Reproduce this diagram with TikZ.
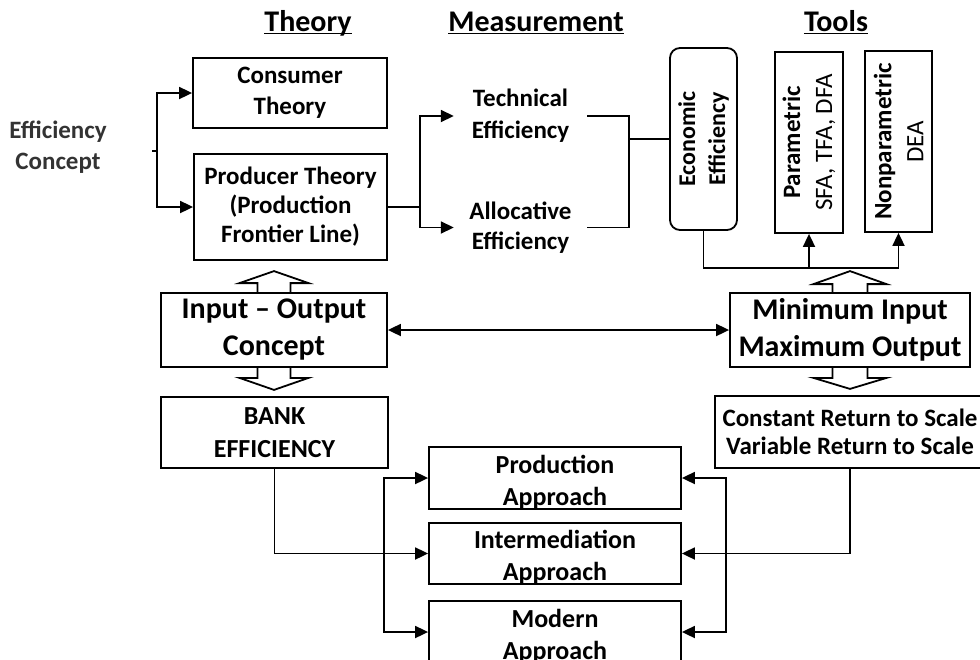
\documentclass[tikz,border=0pt]{standalone}
\usepackage{fontspec}
\setmainfont{Carlito}
\usetikzlibrary{arrows.meta}

\begin{document}
\begin{tikzpicture}[x=1pt,y=-1pt,
  ln/.style={line width=1.8pt},
  arr/.style={line width=1.8pt,-{Triangle[length=13pt,width=12pt]}},
  dbl/.style={line width=1.8pt,{Triangle[length=13pt,width=12pt]}-{Triangle[length=13pt,width=12pt]}},
  box/.style={draw,line width=1.8pt,align=center,inner sep=0pt},
  txt/.style={align=center,inner sep=0pt,font=\fontsize{25}{31}\selectfont\bfseries},
  hd/.style={inner sep=0pt,anchor=base,font=\fontsize{30}{36}\selectfont\bfseries},
  blk/.style={draw,line width=1.8pt}]
\useasboundingbox (0,0) rectangle (980,659);
\clip (0,0) rectangle (980,659);

\node[hd] (thy) at (308,31) {Theory};
\node[hd] (msr) at (536,31) {Measurement};
\node[hd] (tls) at (836,31) {Tools};
\draw[ln] ([yshift=-2.5pt]thy.base west) -- ([yshift=-2.5pt]thy.base east);
\draw[ln] ([yshift=-2.5pt]msr.base west) -- ([yshift=-2.5pt]msr.base east);
\draw[ln] ([yshift=-2.5pt]tls.base west) -- ([yshift=-2.5pt]tls.base east);

\node[txt,text=black!80] (eff) at (58,147) {Efficiency\\Concept};
\node[box,txt,minimum width=194pt,minimum height=70pt] (cons) at (290,93) {Consumer\\Theory};
\node[box,txt,minimum width=193pt,minimum height=106pt,font=\fontsize{25}{29}\selectfont\bfseries] (prod) at (290.5,207) {Producer Theory\\(Production\\Frontier Line)};

\node[txt,minimum width=133pt,font=\fontsize{25}{32}\selectfont\bfseries] (tech) at (520.5,116) {Technical\\Efficiency};
\node[txt,minimum width=133pt,font=\fontsize{25}{30}\selectfont\bfseries] (alloc) at (520.5,227.5) {Allocative\\Efficiency};

\node[box,rounded corners=10pt,rotate=90,minimum width=182pt,minimum height=67pt,font=\fontsize{24}{30}\selectfont\bfseries] (econ) at (703.5,139) {Economic\\Efficiency};
\node[box,rotate=90,minimum width=181pt,minimum height=68pt,font=\fontsize{25}{32}\selectfont] (param) at (809,142.5) {\textbf{Parametric}\\SFA, TFA, DFA};
\node[box,rotate=90,minimum width=181pt,minimum height=67pt,font=\fontsize{25}{32}\selectfont] (nonp) at (898.5,141.5) {\textbf{Nonparametric}\\DEA};

\node[box,minimum width=226pt,minimum height=74pt,font=\fontsize{30}{37}\selectfont\bfseries] (io) at (274,330) {Input -- Output\\Concept};
\node[box,minimum width=240pt,minimum height=74pt,font=\fontsize{30}{37}\selectfont\bfseries] (mm) at (850,330) {Minimum Input\\Maximum Output};
\node[box,minimum width=227pt,minimum height=71pt,font=\fontsize{26}{33}\selectfont\bfseries] (bank) at (274.5,432.5) {BANK\\EFFICIENCY};
\node[box,minimum width=270pt,minimum height=72pt,font=\fontsize{25}{28}\selectfont\bfseries] (crs) at (850,432) {Constant Return to Scale\\Variable Return to Scale};

\node[box,minimum width=252pt,minimum height=62pt] (prodap) at (555,478) {};
\node[box,minimum width=252pt,minimum height=61pt] (interap) at (555,553.5) {};
\node[box,minimum width=252pt,minimum height=62pt] (modap) at (555,632) {};
\node[txt,font=\fontsize{26}{32}\selectfont\bfseries] (prodaptx) at (555,482) {Production\\Approach};
\node[txt,font=\fontsize{26}{32}\selectfont\bfseries] (interaptx) at (555,557.5) {Intermediation\\Approach};
\node[txt,font=\fontsize{26}{32}\selectfont\bfseries] (modaptx) at (555,636) {Modern\\Approach};

\draw[blk,shift={(io.north)}] (-16.5,0) -- (-16.5,-9) -- (-34.5,-9) -- (0,-21) -- (34.5,-9) -- (16.5,-9) -- (16.5,0);
\draw[blk,shift={(io.south)}] (-16.5,0) -- (-16.5,10) -- (-34.5,10) -- (0,22) -- (34.5,10) -- (16.5,10) -- (16.5,0);
\draw[blk,shift={(mm.north)}] (-17.5,0) -- (-17.5,-8) -- (-36.5,-8) -- (0,-21) -- (36.5,-8) -- (17.5,-8) -- (17.5,0);
\draw[blk,shift={(mm.south)}] (-17.5,0) -- (-17.5,10) -- (-36.5,10) -- (0,21) -- (36.5,10) -- (17.5,10) -- (17.5,0);

\coordinate (ect) at (152,151);
\coordinate (ecj) at (157,151);
\draw[ln] (ect) -- (ecj);
\draw[arr] (ecj) |- (cons.west);
\draw[arr] (ecj) |- (prod.west);

\coordinate (pj) at (420,207);
\draw[ln] (prod.east) -- (pj);
\draw[arr] (pj) |- (tech.west);
\draw[arr] (pj) |- (alloc.west);
\coordinate (mj) at (629,139);
\draw[ln] (tech.east) -| (mj) |- (alloc.east);
\draw[ln] (mj) -- (econ.north);

\coordinate (tj) at (898.5,268);
\draw[ln] (econ.west) |- (tj);
\draw[arr] (tj) -- (nonp.west);
\draw[arr] (param.west |- tj) -- (param.west);

\draw[dbl] (io.east) -- (mm.west);

\draw[arr] (bank.south) |- (interap.west);
\coordinate (lj) at (384,553.5);
\draw[arr] (lj) |- (prodap.west);
\draw[arr] (lj) |- (modap.west);
\draw[arr] (crs.south) |- (interap.east);
\coordinate (rj) at (726,553.5);
\draw[arr] (rj) |- (prodap.east);
\draw[arr] (rj) |- (modap.east);
\end{tikzpicture}
\end{document}
